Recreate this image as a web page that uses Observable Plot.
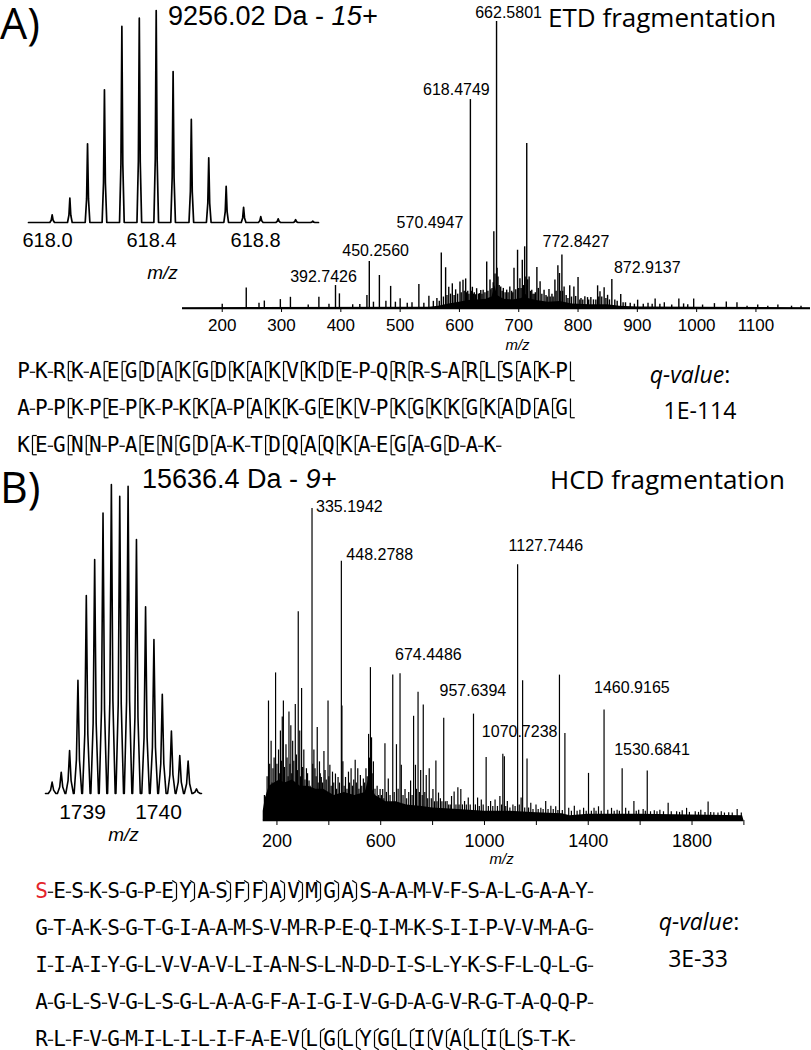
<!DOCTYPE html>
<html><head><meta charset="utf-8">
<script src="https://cdn.jsdelivr.net/npm/d3@7"></script>
<script src="https://cdn.jsdelivr.net/npm/@observablehq/plot@0.6"></script>
<style>
html,body{margin:0;padding:0;background:#fff;}
#fig{position:relative;width:811px;height:1050px;overflow:hidden;background:#fff;}
</style></head><body><div id="fig"></div>
<script>
// ---------------- DATA ----------------
// Panel A inset: isotope envelope of the 15+ precursor (m/z, relative intensity %)
const insetA = [[618.018,3.6],[618.086,11.5],[618.154,37.1],[618.219,62.6],[618.286,92.5],[618.353,96.4],[618.418,100],[618.483,71.2],[618.553,48.6],[618.620,30.5],[618.687,17.1],[618.754,7.2],[618.820,2.8],[618.887,1.7],[618.954,1.3],[619.020,0.6]];
const insetATicks = [618.0, 618.4, 618.8];
// Panel A ETD spectrum peaks (m/z, relative intensity %)
const peaksA = [[200,1.5],[240.5,7.1],[262,1.8],[271,2.6],[298,3.1],[315,3.9],[345,1.2],[363,3.9],[380,1.5],[391,8.0],[397.6,5.1],[420,1.3],[432,1.4],[444,4.5],[448,16.4],[455,2.2],[465,11.5],[476,2.5],[484,7.7],[492,2.2],[500,3.4],[512,1.8],[520,2.0],[531.6,8.4],[540,1.8],[548.5,4.3],[556,2.5],[562,3.5],[566,2.5],[569.4,19.3],[573,4],[576.7,14.2],[579,4.5],[582,7.4],[585,5],[588,8.6],[591,4.5],[593.6,6.5],[597,5],[600.9,9.2],[603,5.5],[606,9.8],[608,6],[610.5,10.3],[612,5.5],[614,6],[616,5],[618.47,72.8],[620,6],[621.8,7.4],[623.5,5],[625,5.5],[627,4.8],[629,6.9],[632,5],[634,5.2],[636,6.3],[638,5],[640,6.4],[643,5.5],[646,16.2],[648,6],[651.5,9.9],[653,6.5],[655,7],[657,9],[658,26.7],[660,12],[662.58,100],[663.5,14],[665,11],[667,8],[669.6,7.5],[672,6],[674,7],[677,5.5],[679.7,6.4],[682,5.5],[685,7.5],[688,6],[690,5.5],[692,14],[695,6.5],[698,20.3],[700,7],[702,10.4],[704,7],[706,16.8],[708,8],[710,21.5],[712,11],[713.5,57.5],[715,10],[717.5,11],[720,6],[722,6.4],[724,5],[726,5],[728,5.5],[730.6,14.3],[733,7],[736,9.3],[739,5],[742.7,6.4],[746,4.5],[748,4],[751,6.6],[753,4],[756,5],[758,4],[761,9.9],[763,6],[766,14.9],[768.7,12.2],[770,6],[772.8,18.6],[774,6],[776.5,7.5],[780,4.5],[783,3.5],[786,7.9],[789,4],[793,7.5],[796,4.2],[800,10.8],[803,3],[805,3.5],[808,3],[811.5,4.1],[816,3.8],[818,3],[821.6,3.8],[826,3],[830,3],[833,7.9],[835,4],[837,5.8],[840,4],[844,7.2],[847,3.5],[849.8,4.6],[853,3],[857,10.1],[862,3],[866,2.5],[872,4.9],[876,2],[880,2],[888,1.8],[895,1.5],[900.5,2.9],[910,1.5],[918,1.8],[925,1.5],[930,3.3],[938,1.5],[945.5,2],[958,1.2],[970,3.3],[978,1.6],[985,1.3],[995,3.3],[1010,1.2],[1030,1.7],[1050,2.3],[1068,2],[1085,0.8],[1103,1.2],[1120,0.8],[1137,1.2],[1160,0.8],[1176,0.8]];
// Panel A unresolved baseline (m/z, %)
const floorA = [[133,0.3],[550,0.4],[565,0.8],[580,1.5],[600,2.2],[615,2.8],[630,3],[645,3.2],[655,4],[660,8],[664,4.5],[675,3.2],[690,3],[705,3.5],[712,5],[716,3.5],[730,2.8],[750,2.2],[770,2.4],[790,1.6],[820,1.3],[850,1.3],[870,0.8],[900,0.5],[1000,0.4],[1192,0.3]];
const labelsA = ["662.5801","618.4749","570.4947","450.2560","392.7426","772.8427","872.9137"];
const ticksA = [200,300,400,500,600,700,800,900,1000,1100];

// Panel B inset: isotope envelope of the 9+ precursor
const insetB = [[1738.60,3.7],[1738.72,6.9],[1738.83,13.9],[1738.94,36.6],[1739.05,64.1],[1739.16,75.7],[1739.27,90.8],[1739.38,100],[1739.49,96.2],[1739.60,99.4],[1739.71,82.2],[1739.83,60.4],[1739.94,49.8],[1740.05,32.1],[1740.17,20.2],[1740.28,12.3],[1740.39,10.5],[1740.50,1.5]];
const insetBTicks = [1739, 1740];
// Panel B HCD spectrum peaks (m/z, %)
const peaksB = [[151.6,8.0],[158.8,7.7],[162,14],[167.4,38.3],[172,18],[177.5,25.4],[181,12],[184.6,16.6],[189,20],[194.7,47.3],[200,18],[206.1,22.6],[209,15],[213.3,28.7],[217,19],[220.5,33.2],[224.8,38.3],[229,17],[234.8,24.3],[239,20],[243,14],[246.3,34.8],[250,18],[253.5,30.4],[257,15],[260.6,25.4],[265,19],[270.7,37.2],[275.0,21.0],[279,16],[282.1,66.9],[287.9,28.7],[291,14],[295.0,42.3],[299,17],[303.6,22.6],[308,13],[313.7,16.6],[318,15],[323.7,12.7],[328,11],[335.19,100],[338,18],[342.4,22.6],[346.7,16.6],[351,14],[355.3,29.8],[359,12],[363.9,18.8],[367,15],[371.0,13.8],[376,12],[381.1,22.1],[385.4,16.0],[390,13],[396.9,38.3],[400,14],[404.0,17.7],[409,11],[414.1,15.5],[419,12],[425.5,14.9],[430,10],[435.6,13.8],[441,12],[448.28,83.1],[450.5,36.7],[454.2,18.8],[459,11],[464.3,13.8],[470,10],[475.7,15.5],[480,12],[485.8,16.6],[491,11],[496,13],[501.6,19.3],[506,12],[511.6,16.6],[516,10],[521.6,14.4],[527,11],[533.1,13.3],[538,12],[543.1,16.6],[548,14],[553.2,27.6],[557,20],[560.3,49.0],[564.6,26.5],[567,15],[571.8,18.8],[578,10],[586.2,11.0],[592,8],[597.6,9.9],[603,8],[607.7,9.9],[612,7],[616.3,24.6],[622,9],[629.2,13.3],[636,8],[646.4,46.6],[652,9],[660.7,24.3],[667,10],[674.45,47.0],[679.4,17.7],[686,8],[693.7,9.9],[700,7],[708,9],[715.2,12.7],[721,8],[726.7,33.4],[733.9,17.7],[738,10],[743.9,41.1],[749,9],[754.0,16.0],[760,8],[764.0,37.0],[770,9],[775.5,14.4],[781,7],[787.0,16.6],[795,7],[801.3,9.9],[807,6],[812.7,19.1],[817,6],[822.8,8.8],[830,7],[836,6],[842.9,32.8],[849,6],[855.8,6.1],[862,5],[868,5],[873.0,7.7],[883.0,9.1],[890,5],[897.4,10.5],[902,5],[908.8,9.9],[915,5],[923.2,6.1],[930,5],[937.5,7.2],[945,5],[957.64,34.1],[965,5],[973.4,7.2],[980,4.5],[987.7,6.6],[995,5],[1006.4,20.2],[1015,4.5],[1023.6,6.1],[1032,4.5],[1040.8,6.6],[1050,4.5],[1059.4,7.7],[1066,5],[1070.72,21.2],[1076.6,20.4],[1082,4.5],[1088.1,6.1],[1098,4],[1109.6,5.0],[1118,4.5],[1127.74,82.0],[1134,5],[1141.2,7.2],[1147,44.8],[1155,4],[1164,19.7],[1170,4],[1178.5,5.5],[1187,3.5],[1198.6,5.0],[1207,3.5],[1217.2,3.9],[1226,3.5],[1236,6.1],[1245,3.5],[1255.9,4.6],[1265,3.5],[1274.6,4.4],[1283,3.2],[1289,46.6],[1300,3.2],[1310,27.9],[1324.7,3.9],[1335,3],[1346.3,4.6],[1357,3],[1367.8,3.3],[1382.1,3.9],[1392,3],[1401,15.1],[1412,3],[1422.3,3.9],[1430,3],[1439.5,4.4],[1450,3],[1460.92,35.4],[1475.3,3.3],[1489.7,3.9],[1500,3],[1511.2,3.3],[1520,3],[1530.68,16.6],[1544.2,3.9],[1556,3],[1576,6.1],[1585,3],[1594.4,3.3],[1611.6,3.5],[1620,3],[1627.4,15.9],[1640,2.8],[1654.6,3.1],[1665,2.8],[1676.1,3.3],[1690,2.8],[1708,5.5],[1720,2.8],[1740.7,2.8],[1752,2.6],[1762.2,3.1],[1779,3.9],[1790,2.6],[1812.4,2.8],[1825,2.6],[1833.9,3.3],[1850,2.6],[1862,5.9],[1872,2.6],[1884.1,2.5],[1900,2.4],[1912.8,2.8],[1925,2.4],[1941.5,2.5],[1955,2.4],[1974,3.5],[1990,2.4]];
const floorB = [[147,3],[155,7],[170,11],[190,12],[210,13],[230,12],[260,13],[290,11],[320,11],[350,10],[380,10],[420,8],[460,9],[500,8],[540,9],[553,13],[560,14],[568,10],[580,8],[620,6],[660,6],[700,5],[760,4.5],[800,4],[900,3.5],[1000,3],[1100,3],[1200,2.5],[1300,2.2],[1330,1.5],[1400,2],[1600,2],[1800,1.8],[1995,1.5],[2000,0]];
const labelsB = ["335.1942","448.2788","674.4486","957.6394","1070.7238","1127.7446","1460.9165","1530.6841"];
const ticksB = [200,400,600,800,1000,1200,1400,1600,1800,2000];

// Sequences: residue, then cleavage site ("-" none, "[" / "_" ETD fragments, "}" / "{" HCD fragments)
const seqA = [
  "P-K-R[K-A[E[G[D[A[K[G[D[K[A[K[V[K[D[E-P-Q[R[R-S-A[R[L[S[A[K-P_",
  "A-P-P[K-P[E-P[K-P-K[K[A-P[A[K[K-G[E[K[V-P[K[G[K[K[G[K[A[D[A[G_",
  "K[E-G[N[N-P-A[E[N[G[D[A-K-T[D[Q[A[Q[K[A-E[G[A-G[D-A-K-"
];
const seqB = [
  "S-E-S-K-S-G-P-E}Y}A-S}F}F}A}V}M}G}A}S-A-A-M-V-F-S-A-L-G-A-A-Y-",
  "G-T-A-K-S-G-T-G-I-A-A-M-S-V-M-R-P-E-Q-I-M-K-S-I-I-P-V-V-M-A-G-",
  "I-I-A-I-Y-G-L-V-V-A-V-L-I-A-N-S-L-N-D-D-I-S-L-Y-K-S-F-L-Q-L-G-",
  "A-G-L-S-V-G-L-S-G-L-A-A-G-F-A-I-G-I-V-G-D-A-G-V-R-G-T-A-Q-Q-P-",
  "R-L-F-V-G-M-I-L-I-L-I-F-A-E-V{L{G{L{Y{G{L{I{V{A{L{I{L{S-T-K-"
];
const modifiedB = [0, 0]; // row, residue of the modified N-terminal serine
const titleA = "9256.02 Da - ", chargeA = "15+", fragA = "ETD fragmentation", qA = "1E-114";
const titleB = "15636.4 Da - ", chargeB = "9+", fragB = "HCD fragmentation", qB = "3E-33";

// ---------------- DRAWING ----------------
const fig = document.getElementById("fig");
const SANS = "'Liberation Sans', Arial, Helvetica, sans-serif";
const HUM = "'Open Sans', 'Noto Sans', sans-serif";
const MONO = "'DejaVu Sans Mono', monospace";
const pstyle = `background:transparent;overflow:visible;font-family:${SANS};color:black;`;
const obj = a => a.map(([mz, h]) => ({mz, h}));

function place(node, left, top, w) {
  const d = document.createElement("div");
  d.style.cssText = `position:absolute;left:${left}px;top:${top}px;width:${w}px;`;
  d.appendChild(node);
  fig.appendChild(d);
}
function profile(peaks, dom, w) {
  const pts = [{mz: dom[0], h: 0}];
  for (const p of [...peaks].sort((a, b) => a.mz - b.mz)) {
    pts.push({mz: p.mz - w, h: 0}, {mz: p.mz - 0.4 * w, h: 0.3 * p.h}, {mz: p.mz, h: p.h},
             {mz: p.mz + 0.4 * w, h: 0.3 * p.h}, {mz: p.mz + w, h: 0});
  }
  pts.push({mz: dom[1], h: 0});
  return pts;
}
function nearest(peaks, mz) {
  return peaks.reduce((a, b) => Math.abs(b.mz - mz) < Math.abs(a.mz - mz) ? b : a);
}
function labelMarks(labels, peaks, offs) {
  return labels.map(t => {
    const mz = +t, p = nearest(peaks, mz);
    const [dx, dy, anchor] = offs[t];
    return Plot.text([{mz, h: p.h, t}], {x: "mz", y: "h", text: "t", dx, dy, textAnchor: anchor,
      lineAnchor: "middle", fontSize: 16, fill: "black"});
  });
}

// ---- Panel A inset
const domIA = [617.927, 619.042];
place(Plot.plot({
  width: 340, height: 285, marginLeft: 28, marginRight: 22, marginTop: 10, marginBottom: 63,
  style: pstyle, x: {domain: domIA}, y: {domain: [0, 100], axis: null},
  marks: [
    Plot.line(profile(obj(insetA), domIA, 0.009), {x: "mz", y: "h", stroke: "black", strokeWidth: 1.7}),
    Plot.axisX({ticks: insetATicks, tickFormat: d3.format(".1f"), tickSize: 0, tickPadding: 10, fontSize: 20, label: null}),
    Plot.text(["m/z"], {frameAnchor: "bottom", lineAnchor: "middle", dx: -11, dy: 50, fontStyle: "italic", fontSize: 19})
  ]
}), 0, 0, 340);

// ---- Panel A main spectrum
const pA = obj(peaksA);
const offsA = {"662.5801": [12, -9, "middle"], "618.4749": [-14, -10, "middle"], "570.4947": [-12, -30, "middle"],
  "450.2560": [5, -11, "middle"], "392.7426": [-13, -9, "middle"], "772.8427": [14, -13, "middle"], "872.9137": [26, -27, "middle"]};
place(Plot.plot({
  width: 811, height: 350, marginLeft: 182, marginRight: 1, marginTop: 21, marginBottom: 42,
  style: pstyle, x: {domain: [133, 1192]}, y: {domain: [0, 100], axis: null},
  marks: [
    Plot.areaY(obj(floorA), {x: "mz", y: "h", fill: "black"}),
    Plot.ruleX(pA, {x: "mz", y1: 0, y2: "h", stroke: "black", strokeWidth: 1.4}),
    Plot.ruleY([0], {stroke: "black", strokeWidth: 1.5}),
    Plot.axisX({ticks: ticksA, tickFormat: d3.format("d"), tickSize: 4, tickPadding: 6, fontSize: 17, label: null}),
    Plot.text(["m/z"], {frameAnchor: "bottom", lineAnchor: "middle", dx: 21, dy: 37, fontStyle: "italic", fontSize: 15}),
    ...labelMarks(labelsA, pA, offsA)
  ]
}), 0, 0, 811);

// ---- Panel B inset
const domIB = [1738.513, 1740.566];
place(Plot.plot({
  width: 240, height: 380, marginLeft: 45, marginRight: 39, marginTop: 24, marginBottom: 47,
  style: pstyle, x: {domain: domIB}, y: {domain: [0, 100], axis: null},
  marks: [
    Plot.line(profile(obj(insetB), domIB, 0.05), {x: "mz", y: "h", stroke: "black", strokeWidth: 1.6}),
    Plot.axisX({ticks: insetBTicks, tickFormat: d3.format("d"), tickSize: 0, tickPadding: 11, fontSize: 21, label: null}),
    Plot.text(["m/z"], {frameAnchor: "bottom", lineAnchor: "middle", dx: 0, dy: 41, fontStyle: "italic", fontSize: 19})
  ]
}), 0, 460, 240);

// ---- Panel B main spectrum
const pB = obj(peaksB);
const offsB = {"335.1942": [4, -2, "start"], "448.2788": [5, -6, "start"], "674.4486": [-5, -19, "start"],
  "957.6394": [-34, -23, "start"], "1070.7238": [-21, -22, "start"], "1127.7446": [-9, -19, "start"],
  "1460.9165": [-10, -22, "start"], "1530.6841": [-8, -19, "start"]};
place(Plot.plot({
  width: 811, height: 410, marginLeft: 262.7, marginRight: 67.6, marginTop: 48, marginBottom: 50,
  style: pstyle, x: {domain: [147, 2000]}, y: {domain: [0, 100], axis: null},
  marks: [
    Plot.areaY(obj(floorB), {x: "mz", y: "h", fill: "black"}),
    Plot.ruleX(pB, {x: "mz", y1: 0, y2: "h", stroke: "black", strokeWidth: 1.2}),
    Plot.ruleY([0], {stroke: "black", strokeWidth: 1.5}),
    Plot.axisX({ticks: ticksB, tickFormat: d => (d % 400 === 200 ? String(d) : ""), tickSize: 5, tickPadding: 9, fontSize: 18, label: null}),
    Plot.text(["m/z"], {frameAnchor: "bottom", lineAnchor: "middle", dx: -2, dy: 39, fontStyle: "italic", fontSize: 15}),
    ...labelMarks(labelsB, pB, offsB)
  ]
}), 0, 460, 811);

// ---- Sequence maps
function hook(c, g, r) {
  const t = r - 0.27, b = r + 0.25, w = 0.24;
  if (c === "[") return [{x1: g, y1: t, x2: g, y2: b}, {x1: g, y1: t, x2: g + w, y2: t}, {x1: g, y1: b, x2: g + w, y2: b}];
  if (c === "_") return [{x1: g, y1: t, x2: g, y2: b}, {x1: g, y1: b, x2: g + w, y2: b}];
  const s = c === "}" ? -1 : 1;
  return [{x1: g, y1: t + 0.05, x2: g, y2: b - 0.05},
          {x1: g, y1: t + 0.05, x2: g + s * w, y2: t - 0.03},
          {x1: g, y1: b - 0.05, x2: g + s * w, y2: b + 0.03}];
}
function seqPlot(rows, mod, opt) {
  const res = [], segs = [];
  rows.forEach((s, r) => {
    for (let k = 0; k < s.length; k += 2) {
      const i = k / 2;
      res.push({r, i, aa: s[k], red: !!mod && mod[0] === r && mod[1] === i});
      const c = s[k + 1];
      if (!c) continue;
      const g = i + 0.5;
      if (c === "-") segs.push({x1: g - 0.15, y1: r + 0.02, x2: g + 0.15, y2: r + 0.02});
      else segs.push(...hook(c, g, r));
    }
  });
  return Plot.plot({
    width: opt.width, height: opt.height, marginLeft: opt.left, marginRight: opt.right,
    marginTop: opt.top, marginBottom: opt.bottom, style: pstyle,
    x: {domain: [0, 30], axis: null}, y: {domain: [-0.5, rows.length - 0.5], reverse: true, axis: null},
    marks: [
      Plot.text(res, {x: "i", y: "r", text: "aa", fontFamily: MONO, fontSize: 21, fill: d => d.red ? "#e3242b" : "black"}),
      Plot.link(segs, {x1: "x1", y1: "y1", x2: "x2", y2: "y2", stroke: "black", strokeWidth: 1.2})
    ]
  });
}
place(seqPlot(seqA, null, {width: 600, height: 115, left: 23, right: 39, top: 2.5, bottom: 1.5}), 0, 350, 600);
place(seqPlot(seqB, modifiedB, {width: 620, height: 190, left: 41, right: 39, top: 2.5, bottom: 2.5}), 0, 870, 620);

// ---- Headings and annotations
const ov = d3.create("svg").attr("width", 811).attr("height", 1050)
  .style("position", "absolute").style("left", "0px").style("top", "0px").style("overflow", "visible");
function txt(x, y, parts, size, family, anchor = "start") {
  const t = ov.append("text").attr("x", x).attr("y", y).attr("font-size", size).attr("font-family", family)
    .attr("text-anchor", anchor).attr("dominant-baseline", "central").attr("fill", "black");
  for (const p of parts) {
    const [s, it] = Array.isArray(p) ? p : [p, false];
    t.append("tspan").text(s).attr("font-style", it ? "italic" : "normal");
  }
}
txt(0, 22, ["A)"], 43, HUM);
txt(168, 16, [titleA, [chargeA, true]], 27, SANS);
txt(548, 17, [fragA], 26, HUM);
txt(690, 374, [["q-value", true], ":"], 23, HUM, "middle");
txt(700, 410, [qA], 23, HUM, "middle");
txt(0, 486, ["B)"], 43, HUM);
txt(142, 479, [titleB, [chargeB, true]], 27, SANS);
txt(550, 479, [fragB], 26, HUM);
txt(699, 921, [["q-value", true], ":"], 23, HUM, "middle");
txt(698, 958, [qB], 23, HUM, "middle");
fig.appendChild(ov.node());
</script></body></html>
